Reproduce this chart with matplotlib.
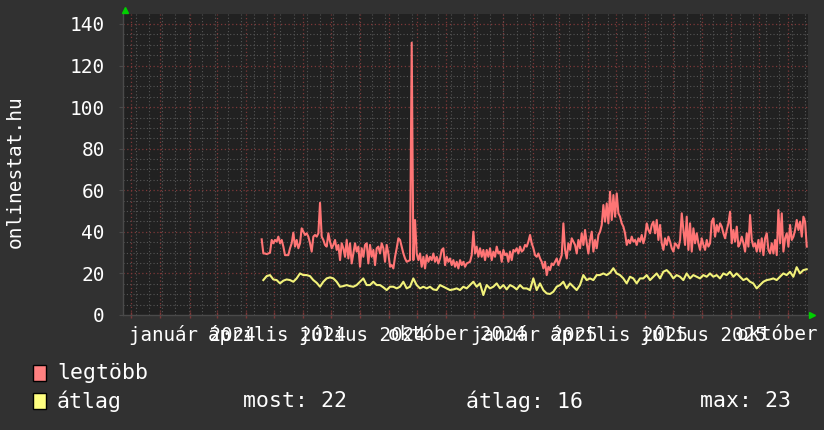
import matplotlib
matplotlib.use("Agg")
import matplotlib.pyplot as plt
from matplotlib.patches import Rectangle
import pandas as pd

plt.rcParams['font.family'] = ['DejaVu Sans Mono', 'DejaVu Sans']

# ---------------- data ----------------
x_start, x_end = "2023-11-22", "2025-11-22"
y_max = 144.8
y_ticks = [0, 20, 40, 60, 80, 100, 120, 140]

legtobb_start, legtobb_end = "2024-04-18 00:00", "2025-11-20 16:00"
legtobb = [
    36.4, 29.6, 29.6, 29.3, 29.6, 30.0, 36.1, 34.5, 36.1, 35.3,
    37.7, 34.5, 36.1, 32.9, 28.8, 28.8, 28.8, 32.1, 34.5, 39.6,
    32.9, 36.1, 32.1, 34.5, 41.7, 40.1, 38.5, 39.3, 37.7, 34.5,
    30.5, 37.7, 38.5, 37.7, 39.3, 54.0, 37.7, 36.1, 33.7, 32.9,
    39.3, 35.3, 32.1, 33.7, 36.1, 31.3, 33.7, 26.4, 34.5, 32.1,
    28.0, 36.1, 27.2, 34.5, 24.8, 29.6, 34.5, 30.5, 32.9, 23.2,
    32.1, 28.0, 33.7, 34.5, 24.8, 33.7, 28.0, 31.3, 24.0, 32.1,
    32.9, 29.6, 34.5, 32.1, 25.6, 33.7, 29.6, 23.2, 24.0, 22.4,
    28.0, 32.1, 36.9,
    36.1, 32.9, 29.6, 27.2, 25.6, 26.0, 26.4, 131.0, 26.4, 45.7,
    29.6, 26.4, 29.6, 23.2, 28.0, 22.4, 28.8, 25.6, 28.0, 26.4,
    29.6, 25.6, 28.0, 24.8, 27.2, 31.3, 32.1, 24.0, 28.0, 25.6,
    27.2, 24.0, 26.4, 23.2, 25.6, 22.4, 26.4, 24.0, 25.6, 23.2,
    24.8, 25.2, 25.6, 28.8, 40.1, 29.6, 32.9, 28.0, 32.1, 28.0,
    31.3, 26.4, 31.3, 28.0, 32.1, 26.4, 30.5, 28.0, 32.9, 29.6,
    30.5, 25.6, 31.3, 28.8, 29.6, 25.6, 30.5, 26.4, 31.3, 30.5,
    32.1, 29.6, 32.9, 30.5, 31.3, 33.7, 32.9, 35.3, 38.5, 34.5,
    32.1, 28.8, 28.0, 29.6, 27.2, 25.6, 22.4, 25.6, 19.2, 23.2,
    21.6, 24.8, 24.0, 25.6, 27.2, 24.0, 26.4, 28.8, 44.1, 31.3,
    27.2, 34.5, 31.3, 36.9, 35.3, 33.7, 29.6, 36.1, 32.1, 39.3,
    33.7, 40.9, 34.5, 29.6, 36.1, 40.1, 30.5, 36.1, 32.1, 38.5,
    40.1, 43.3, 52.9, 44.9, 53.7, 44.1, 59.3, 45.7, 57.7, 47.3,
    58.5, 48.9, 47.3, 44.1, 42.5, 39.3, 33.7, 36.1, 34.5, 37.7,
    35.3, 36.1, 33.7, 36.9, 35.3, 38.5, 34.5, 37.7, 44.1, 40.9,
    39.3, 43.3, 44.9, 39.3, 45.7, 36.1, 43.3, 34.5, 31.3, 36.9,
    33.7, 37.7, 35.3, 32.1, 30.5, 34.5, 33.7, 32.1, 36.1, 48.9,
    40.9, 33.7, 47.3, 31.3, 44.1, 30.5, 41.7, 34.5, 39.3, 34.5,
    31.3, 36.9, 33.7, 31.3, 36.1, 32.9, 34.5, 44.9, 46.5, 37.7,
    43.3, 40.1, 44.1, 42.5, 39.3, 36.9, 40.9, 44.1, 49.7, 34.5,
    40.9, 35.3, 42.5, 32.9, 34.5, 37.7, 34.5, 30.5, 39.3, 32.9,
    48.1, 36.1, 32.9, 34.5, 30.5, 36.1, 30.5, 36.9, 28.8, 36.9,
    39.3, 31.3, 29.6, 34.5, 29.6, 36.1, 28.8, 50.5, 34.5, 48.9,
    30.5, 36.9, 39.3, 32.9, 43.3, 36.1, 37.7, 40.9, 45.7, 40.9,
    44.9, 37.7, 47.3, 44.9, 32.9,
]

atlag_start, atlag_end = "2024-04-19 18:00", "2025-11-20 14:00"
atlag = [
    16.8, 18.7, 19.2, 17.1, 16.8, 15.2, 16.5, 17.1, 16.8, 16.0,
    17.6, 20.0, 19.2, 19.2, 18.7, 16.8, 15.5, 13.6, 16.0, 17.6,
    18.1, 17.6, 16.0, 13.6, 13.9, 14.4, 13.9, 13.6, 14.4, 16.0,
    17.6, 14.4, 14.4, 16.0, 14.4, 14.4, 13.3, 12.0, 13.6, 13.6,
    12.8,
    13.6, 16.0, 12.8, 13.6, 17.6, 14.4, 12.8, 13.6, 12.8, 13.6,
    12.3, 12.0, 14.4, 13.6, 12.8, 12.0, 12.3, 12.8, 12.0, 13.6,
    12.8, 14.4, 16.0, 13.6, 15.2, 9.6, 14.4, 12.8, 13.6, 15.2,
    12.8, 14.4, 12.3, 14.4, 13.6, 12.3, 14.4, 12.8, 12.8, 12.0,
    17.6, 12.0, 15.2, 12.0, 10.4, 10.1, 11.2, 13.6, 14.4, 16.0,
    12.8, 15.2, 13.6, 12.0, 14.4, 19.2, 16.8, 17.6, 16.8, 19.2,
    19.2, 20.0, 19.2, 20.3, 22.5, 20.0, 19.2, 17.6, 15.2, 18.4,
    17.6, 15.2, 17.6, 17.6, 19.2, 16.8, 18.4, 20.0, 17.6, 20.8,
    21.6, 20.0, 17.6, 19.2, 18.4, 16.8, 20.0, 17.6, 19.2, 18.4,
    17.6, 19.2, 18.4, 20.0, 18.4, 19.2, 17.6, 20.0, 19.2, 20.8,
    18.4, 20.0, 18.4, 16.8, 17.6, 16.0, 15.2, 12.8, 14.4, 16.0,
    16.8, 17.1, 17.6, 16.8, 18.4, 20.0, 19.2, 20.8, 18.4, 23.0,
    20.0, 21.6, 22.0,
]

# x-axis labels (label anchor dates, as placed in the original picture)
x_label_dates = ["2024-02-04", "2024-05-04", "2024-08-03", "2024-11-12",
                 "2025-02-03", "2025-05-04", "2025-08-02", "2025-11-20"]
x_labels = ["január 2024", "április 2024", "július 2024", "október 2024",
            "január 2025", "április 2025", "július 2025", "október 2025"]

y_title = "onlinestat.hu"
series_names = ["legtöbb", "átlag"]
stats_text = ["most: 22", "átlag: 16", "max: 23"]

# ---------------- styling ----------------
BG = "#313131"
PLOT_BG = "#212121"
RED = "#ff7575"
YEL = "#f2f27a"
MINOR = "#565656"
MAJOR = "#7d3838"
TXT = "#ffffff"

W, H = 824, 430
fig = plt.figure(figsize=(W / 100, H / 100), dpi=100, facecolor=BG)
ax = fig.add_axes([123 / W, 115 / H, 685 / W, 301 / H], facecolor=PLOT_BG)

x0, x1 = pd.Timestamp(x_start), pd.Timestamp(x_end)
ax.set_xlim(x0, x1)
ax.set_ylim(0, y_max)

# grid
two_week = pd.date_range("2023-12-06", x_end, freq="14D")
months = pd.date_range("2023-12-01", x_end, freq="MS")
minor_y = [v for v in range(5, 145, 5) if v % 20 != 0]
major_y = [v for v in y_ticks if v > 0]
dot = (0, (1, 2))
ax.vlines(two_week, 0, y_max, colors=MINOR, linestyles=dot, lw=0.8, zorder=1)
ax.hlines(minor_y, x0, x1, colors=MINOR, linestyles=dot, lw=0.8, zorder=1)
ax.vlines(months, 0, y_max, colors=MAJOR, linestyles=dot, lw=0.9, zorder=1.5)
ax.hlines(major_y, x0, x1, colors=MAJOR, linestyles=dot, lw=0.9, zorder=1.5)

# series
d_red = pd.date_range(legtobb_start, legtobb_end, periods=len(legtobb))
d_yel = pd.date_range(atlag_start, atlag_end, periods=len(atlag))
ax.plot(d_red, legtobb, color=RED, lw=1.5, zorder=3)
ax.plot(d_yel, atlag, color=YEL, lw=1.5, zorder=3)

# axes look
for s in ["top", "right"]:
    ax.spines[s].set_visible(False)
for s in ["left", "bottom"]:
    ax.spines[s].set_color("#4a4a4a")
    ax.spines[s].set_linewidth(1.0)

ax.set_yticks(y_ticks)
ax.set_yticklabels([str(v) for v in y_ticks])
ax.tick_params(axis="y", length=3, color="#4a4a4a", labelcolor=TXT,
               labelsize=14, pad=10)

ax.set_xticks(pd.to_datetime(x_label_dates))
ax.set_xticklabels(x_labels)
ax.set_xticks(months, minor=True)
ax.tick_params(axis="x", which="major", length=0, labelcolor=TXT,
               labelsize=13.8, pad=7)
ax.tick_params(axis="x", which="minor", length=4, direction="inout",
               color=MAJOR, width=1)

# arrows
ax.plot([0.003], [1.012], marker="^", color="#00d000", ms=5,
        transform=ax.transAxes, clip_on=False, zorder=5)
ax.plot([1.006], [0.0], marker=">", color="#00d000", ms=5,
        transform=ax.transAxes, clip_on=False, zorder=5)


def fx(px):
    return px / W


def fy(py):
    return 1 - py / H


# y-axis title
fig.text(fx(15), fy(172), y_title, rotation=90, color=TXT, fontsize=14,
         ha="center", va="center")

# legend
for (name, col, yc) in [(series_names[0], "#ff8080", 373), (series_names[1], "#ffff80", 401)]:
    fig.patches.append(Rectangle((fx(33), fy(yc + 8)), 13 / W, 16 / H,
                                 transform=fig.transFigure, facecolor=col,
                                 edgecolor="#000000", lw=1))
    fig.text(fx(57), fy(yc), name, color=TXT, fontsize=15.5,
             va="center", ha="left")

for txt, px in zip(stats_text, [243, 466, 700]):
    fig.text(fx(px), fy(401), txt, color=TXT, fontsize=15.5,
             va="center", ha="left")

fig.savefig("out.png", dpi=100, facecolor=BG)
